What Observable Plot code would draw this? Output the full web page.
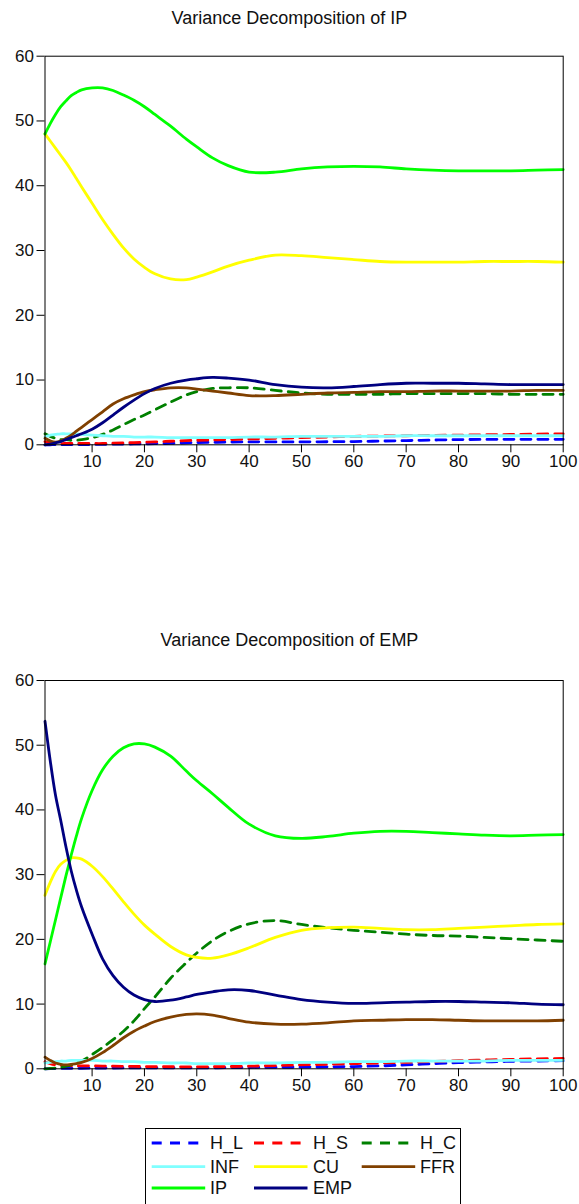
<!DOCTYPE html>
<html>
<head>
<meta charset="utf-8">
<script src="https://cdn.jsdelivr.net/npm/d3@7"></script>
<script src="https://cdn.jsdelivr.net/npm/@observablehq/plot@0.6"></script>
<style>
  html, body { margin: 0; padding: 0; background: #fff; overflow: hidden; }
  #wrap { position: relative; width: 579px; height: 1204px; overflow: hidden; font-family: "Liberation Sans", Arial, sans-serif; color: #000; }
  .title { position: absolute; left: 0; width: 579px; text-align: center; font-size: 18px; line-height: 20px; color: #111; }
  #legend { position: absolute; left: 145px; top: 1128px; width: 316px; height: 84px; border: 1px solid #000; box-sizing: border-box; }
  .ltext { position: absolute; font-size: 18px; line-height: 20px; color: #111; }
</style>
</head>
<body>
<div id="wrap">
  <div class="title" id="t1" style="top:8px">Variance Decomposition of IP</div>
  <div class="title" id="t2" style="top:630px">Variance Decomposition of EMP</div>
  <div id="legend"></div>
</div>
<script>
// ---- data ----
const periods = [1,2,3,4,5,6,7,8,10,12,14,16,18,20,22,25,28,30,33,36,40,45,50,55,60,65,70,75,80,85,90,95,100];
const seriesNames = ["H_L","H_S","H_C","INF","CU","FFR","IP","EMP"];
const seriesColors = ["#0000ff","#ff0000","#008000","#80ffff","#ffff00","#804000","#00ff00","#000080"];
const seriesDashed = [true,true,true,false,false,false,false,false];
const xTicks = [10,20,30,40,50,60,70,80,90,100];
const yTicks = [0,10,20,30,40,50,60];
const panelTitles = ["Variance Decomposition of IP","Variance Decomposition of EMP"];

// Variance decomposition of IP
const ipH_L = [0,0.01,0.02,0.02,0.03,0.03,0.04,0.04,0.05,0.07,0.09,0.11,0.13,0.15,0.18,0.22,0.3,0.35,0.38,0.42,0.45,0.45,0.45,0.47,0.5,0.57,0.65,0.73,0.8,0.83,0.85,0.85,0.85];
const ipH_S = [0.5,0.35,0.25,0.2,0.2,0.2,0.2,0.2,0.2,0.2,0.25,0.3,0.35,0.4,0.45,0.55,0.65,0.7,0.75,0.8,0.9,1.0,1.1,1.2,1.3,1.35,1.4,1.45,1.5,1.55,1.6,1.65,1.7];
const ipH_C = [1.7,1.3,1.0,0.8,0.8,0.7,0.7,0.8,1.1,1.6,2.3,3.1,3.9,4.6,5.4,6.6,7.7,8.2,8.7,8.8,8.8,8.4,8.0,7.8,7.8,7.8,7.9,7.9,7.9,7.9,7.8,7.8,7.8];
const ipINF = [1.2,1.5,1.6,1.7,1.7,1.7,1.7,1.6,1.5,1.4,1.3,1.3,1.2,1.2,1.2,1.1,1.1,1.1,1.1,1.1,1.2,1.2,1.3,1.3,1.3,1.3,1.4,1.4,1.4,1.4,1.4,1.4,1.4];
const ipCU  = [48,46.9,45.8,44.7,43.6,42.4,41.1,39.8,37.3,34.8,32.5,30.4,28.7,27.4,26.4,25.6,25.5,25.9,26.7,27.6,28.5,29.3,29.2,28.9,28.6,28.3,28.2,28.2,28.2,28.3,28.3,28.3,28.2];
const ipFFR = [1.0,0.6,0.4,0.6,1.0,1.5,2.1,2.7,3.9,5.1,6.3,7.1,7.7,8.2,8.5,8.8,8.8,8.6,8.3,8.0,7.6,7.6,7.8,8.0,8.1,8.2,8.2,8.3,8.3,8.3,8.3,8.4,8.4];
const ipIP  = [48,49.6,51.0,52.2,53.1,53.9,54.4,54.8,55.1,55.1,54.7,54.0,53.2,52.2,51.0,49.2,47.2,46.0,44.3,43.1,42.1,42.1,42.6,42.9,43.0,42.9,42.6,42.4,42.3,42.3,42.3,42.4,42.5];
const ipEMP = [0,0.1,0.3,0.5,0.8,1.1,1.4,1.7,2.4,3.4,4.6,5.8,6.9,7.9,8.7,9.5,10.0,10.2,10.4,10.3,10.0,9.3,8.9,8.8,9.0,9.3,9.5,9.5,9.5,9.4,9.3,9.3,9.3];

// Variance decomposition of EMP
const empH_L = [0,0.03,0.04,0.05,0.06,0.07,0.08,0.08,0.1,0.11,0.12,0.13,0.14,0.15,0.15,0.15,0.15,0.15,0.16,0.18,0.2,0.22,0.25,0.3,0.35,0.45,0.6,0.78,0.95,1.05,1.15,1.2,1.25];
const empH_S = [1.1,0.8,0.6,0.5,0.5,0.45,0.45,0.45,0.45,0.42,0.4,0.38,0.36,0.35,0.33,0.32,0.3,0.3,0.32,0.35,0.4,0.5,0.6,0.7,0.8,0.9,1.0,1.12,1.25,1.35,1.45,1.53,1.6];
const empH_C = [0,0.05,0.1,0.2,0.4,0.6,0.9,1.2,2.2,3.3,4.5,5.8,7.4,9.3,11.1,14.0,16.4,17.9,19.8,21.2,22.4,22.9,22.3,21.8,21.4,21.1,20.8,20.6,20.5,20.3,20.1,19.9,19.7];
const empINF = [0.9,1.0,1.1,1.2,1.2,1.3,1.3,1.3,1.3,1.2,1.2,1.1,1.1,1.0,1.0,0.9,0.9,0.8,0.8,0.8,0.9,0.9,1.0,1.0,1.1,1.1,1.2,1.2,1.2,1.2,1.3,1.3,1.3];
const empCU  = [26.8,28.8,30.5,31.6,32.2,32.6,32.6,32.4,31.3,29.7,27.8,25.8,23.9,22.2,20.8,18.9,17.6,17.2,17.1,17.6,18.7,20.3,21.4,21.8,21.9,21.7,21.5,21.5,21.7,21.9,22.1,22.3,22.4];
const empFFR = [1.8,1.3,0.9,0.7,0.6,0.7,0.8,1.0,1.6,2.5,3.6,4.8,5.8,6.6,7.3,8.0,8.4,8.5,8.3,7.8,7.2,6.9,6.9,7.1,7.4,7.5,7.6,7.6,7.5,7.4,7.4,7.4,7.5];
const empIP  = [16.2,19.6,23.0,26.4,29.8,33.0,36.0,38.7,43.0,46.2,48.3,49.6,50.2,50.2,49.7,48.3,46.0,44.5,42.5,40.4,37.8,36.0,35.6,35.9,36.4,36.7,36.7,36.5,36.3,36.1,36.0,36.1,36.2];
const empEMP = [53.7,47.6,42.3,38.4,34.3,30.6,27.6,25.0,20.8,17.0,14.4,12.6,11.4,10.7,10.4,10.6,11.1,11.5,11.9,12.2,12.1,11.4,10.7,10.3,10.1,10.2,10.3,10.4,10.4,10.3,10.2,10.0,9.9];

const ipSeries  = [ipH_L, ipH_S, ipH_C, ipINF, ipCU, ipFFR, ipIP, ipEMP];
const empSeries = [empH_L, empH_S, empH_C, empINF, empCU, empFFR, empIP, empEMP];

// ---- drawing ----
const DASH = "10,7";
const LEG_DASH = "10,8.3";
const LW = 2.8;
const FONT = "Liberation Sans, Arial, sans-serif";

function panel(values, top, height, mt, mb) {
  const marks = [];
  seriesNames.forEach((name, i) => {
    const rows = periods.map((p, j) => ({period: p, value: values[i][j]}));
    marks.push(Plot.line(rows, {
      x: "period", y: "value",
      stroke: seriesColors[i], strokeWidth: LW,
      strokeDasharray: seriesDashed[i] ? DASH : null,
      curve: "catmull-rom"
    }));
  });
  marks.push(Plot.frame({stroke: "#000", strokeWidth: 1}));
  marks.push(Plot.axisX({ticks: xTicks, tickSize: 8, tickPadding: 2, label: null, stroke: "#000", fill: "#111"}));
  marks.push(Plot.axisY({ticks: yTicks, tickSize: 8, tickPadding: 3, label: null, stroke: "#000", fill: "#111"}));
  const svg = Plot.plot({
    width: 579, height,
    marginTop: mt, marginBottom: mb, marginLeft: 44.5, marginRight: 16.3,
    x: {domain: [1, 100]},
    y: {domain: [0, 60]},
    style: {fontSize: "17px", fontFamily: FONT, background: "transparent", overflow: "visible", color: "#111"},
    marks
  });
  svg.style.position = "absolute";
  svg.style.left = "0px";
  svg.style.top = top + "px";
  document.getElementById("wrap").appendChild(svg);
}

panel(ipSeries, 30, 440, 25.7, 25.7);
panel(empSeries, 655, 440, 25, 26.7);

// ---- legend ----
const legend = document.getElementById("legend");
const colX = [6.7, 109, 216.7];   // swatch start, relative to box
const colText = [65, 168, 275];
const rowY = [15, 38.7, 60];
const lsvg = d3.create("svg").attr("width", 316).attr("height", 84)
  .style("position", "absolute").style("left", "-1px").style("top", "-1px");
seriesNames.forEach((name, i) => {
  const c = i % 3, r = Math.floor(i / 3);
  lsvg.append("line")
    .attr("x1", colX[c]).attr("x2", colX[c] + (seriesDashed[i] ? 47 : 53.5))
    .attr("y1", rowY[r]).attr("y2", rowY[r])
    .attr("stroke", seriesColors[i]).attr("stroke-width", LW)
    .attr("stroke-dasharray", seriesDashed[i] ? LEG_DASH : null);
  const t = document.createElement("div");
  t.className = "ltext";
  t.textContent = name;
  t.style.left = (colText[c] - 1) + "px";
  t.style.top = (rowY[r] - 11) + "px";
  legend.appendChild(t);
});
legend.appendChild(lsvg.node());
</script>
</body>
</html>
